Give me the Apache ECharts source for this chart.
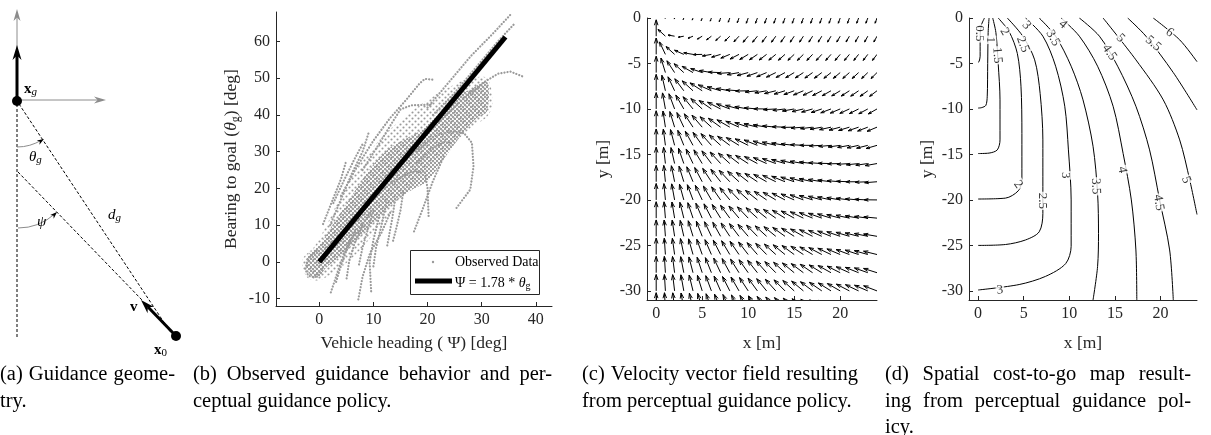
<!DOCTYPE html>
<html>
<head>
<meta charset="utf-8">
<script src="https://cdn.jsdelivr.net/npm/echarts@6.0.0/dist/echarts.min.js"></script>
<style>
  html, body { margin: 0; padding: 0; background: #fff; }
  #chart { width: 1211px; height: 435px; }
</style>
</head>
<body>
<div id="chart"></div>
<script>
// ---- panel (b): observed guidance behaviour ----
const headingTicks = [0, 10, 20, 30, 40];
const bearingTicks = [-10, 0, 10, 20, 30, 40, 50, 60];
const fitLine = [[0, 0], [34.4, 61.2]];
// outline of the loose cloud of observed points
const cloudLower = [[-3, -2], [-2, -4.5], [0, -5], [2, -3.5], [4, -1.5], [6, 1], [8, 4], [10, 7.5], [12, 11],
  [14, 15], [16, 19], [19, 24], [22, 28.5], [25, 32.5], [28, 36.5], [31, 39.5], [32, 43]];
const cloudUpper = [[31, 50], [27, 49.5], [24, 47.5], [21, 45], [18, 42], [15, 38.5], [13, 36], [11, 33],
  [9, 29.5], [7, 25.5], [5, 21], [3, 15], [1, 9], [-1, 4], [-3, 1]];
// outline of the dense core
const bandLower = [[-2.5, -1], [-1.5, -3.8], [0, -4.2], [1, -2], [3, 0.5], [5, 3], [7, 6], [9, 9], [11, 12],
  [13, 15], [15, 17.5], [17, 19.5], [20, 22], [23, 28], [26, 34], [29, 39], [31, 41]];
const bandUpper = [[31, 49], [28, 47], [25, 45], [22, 40.5], [19, 36], [16, 33.5], [13, 31], [10, 26.5],
  [8, 22.5], [6, 18], [4, 13.5], [2, 9], [0, 4.5], [-2, 2]];
// single trajectories that stand out of the cloud
const observedTraces = [
  [[4, 18], [7, 26], [10, 33], [13, 39], [16, 44], [18.5, 48.5], [19.5, 49.8], [21, 49.6]],
  [[8, 25], [11, 32], [13.5, 38], [15, 41.5], [17, 42.6], [20.8, 42.8]],
  [[2, 10], [4, 17], [6, 24], [8, 30], [9.2, 35.5]],
  [[0.7, 10.3], [2.5, 17], [4, 22.5], [5, 27.6]],
  [[2.6, 16], [4.5, 22], [6.5, 28], [8.2, 32.6]],
  [[18, 30], [21, 34], [23.9, 35.5], [26.7, 35.1], [28.2, 32.4], [28.5, 26], [27.9, 19.7], [25.1, 14.2]],
  [[22, 38], [26, 43.5], [30, 48.5], [33, 51.2], [35.3, 51.8], [37.5, 50.5]],
  [[20, 42], [24, 49], [28, 56], [32, 62], [35.6, 67.7]],
  [[21, 40], [25, 46], [29, 53], [33, 60], [36.2, 65]],
  [[12, 20], [15, 23], [17, 24.5], [19.5, 24.6], [20, 20], [20.2, 12.4]],
  [[23, 28.7], [21, 22], [19, 14], [17.4, 7.9]],
  [[9.4, 13.4], [7.5, 9], [5.7, 6.1], [4, 0], [2, -8.9]],
  [[13.1, 13.4], [11.5, 8], [9.4, 2.5], [8, -4], [7.2, -10.3]],
  [[12.5, 17], [11.5, 10], [10.5, 4], [10, -1.2]],
  [[-0.5, 3], [-2, 1], [-2.6, -2], [-2, -3.8], [-0.8, -4.2], [0.5, -2]],
  [[10, 14], [9, 9], [8, 4], [7.3, -1]],
  [[14, 17], [13.5, 12], [13, 8], [12.5, 4]],
  [[8, 10], [6.5, 5], [5.5, 0], [5, -5]],
  [[6.5, 8], [5, 3], [3.8, -2], [3, -6]],
  [[11, 12], [10, 6], [9.3, 0], [9.6, -8.5]],
  [[15.5, 19], [15, 14], [14.2, 9], [13.5, 5]],
  [[18, 27], [21, 31], [23, 32.5], [24.5, 32.4]]
];

// ---- panel (c): velocity field of the policy psi = GAIN * theta_g ----
const GAIN = 1.78;
const quiverX = [0, 1, 2, 3, 4, 5, 6, 7, 8, 9, 10, 11, 12, 13, 14, 15, 16, 17, 18, 19, 20, 21, 22, 23, 24];
const quiverY = [0, -2, -4, -6, -8, -10, -12, -14, -16, -18, -20, -22, -24, -26, -28, -30, -32];
const ARROW_SCALE = 1.8;
const SLOW_RADIUS = 10;

// ---- panel (d): cost-to-go contours ----
const mapXTicks = [0, 5, 10, 15, 20];
const mapYTicks = [-30, -25, -20, -15, -10, -5, 0];
const contourLevels = ['0.5', '1', '1.5', '2', '2.5', '3', '3.5', '4', '4.5', '5', '5.5', '6'];
const contours = [
  [[0.7, 0], [0.35, -0.8], [0.22, -2], [0.22, -4.2], [0.1, -4.8], [0, -4.85]],
  [[1.2, 0], [1.1, -1.6], [1.05, -5], [1.0, -8.6], [0.85, -9.6], [0.4, -9.85], [0, -9.9]],
  [[1.6, 0], [1.95, -1.6], [2.2, -5], [2.4, -9], [2.4, -13.4], [2.1, -14.5], [1.2, -14.85], [0, -14.9]],
  [[2.2, 0], [3.4, -1.5], [4.3, -3.9], [4.7, -7.5], [4.8, -12.7], [4.8, -17.8], [4.4, -19], [3.0, -19.8], [0, -19.9]],
  [[3.2, 0], [4.9, -2], [6.2, -4.6], [6.8, -8.3], [7.1, -13.4], [7.1, -21.5], [6.7, -23.5], [5.2, -24.4], [3.0, -24.9], [0, -25]],
  [[5.2, 0], [7.1, -2], [8.5, -5.3], [9.5, -9.7], [9.9, -14.5], [10.2, -20], [10.2, -25.1], [9.6, -27], [7.4, -28.4], [4.5, -29.3], [0, -29.9]],
  [[6.7, 0], [8.5, -2], [10.2, -5.3], [11.5, -9], [12.6, -14.1], [13.1, -19.3], [13.2, -23.7], [13.1, -27.3], [12.6, -31]],
  [[9.1, 0], [11.1, -2], [13.1, -5.3], [14.8, -9.7], [15.9, -14.9], [16.8, -20], [17.3, -25.5], [17.4, -31]],
  [[11.1, 0], [13.3, -2], [15.3, -5.3], [17.3, -9.7], [18.8, -14.5], [19.9, -20], [21, -25.5], [21.4, -31]],
  [[13.7, 0], [17.3, -4.6], [20.3, -9], [22.1, -13.4], [23.2, -17.8], [24, -21.6]],
  [[16.4, 0], [18.4, -2], [21.4, -6], [24, -10.1]],
  [[19.2, 0], [22.1, -2.4], [24, -4.8]]
];
const contourLabelText = ['0.5', '1', '1.5', '2', '2', '2.5', '2.5', '3', '3', '3', '3.5', '3.5', '4', '4', '4.5', '4.5', '5', '5', '5.5', '6'];
const contourLabelX = [0.1, 1.3, 2.1, 2.9, 4.4, 4.9, 7.0, 5.3, 9.6, 2.4, 8.2, 12.9, 9.3, 15.8, 14.4, 19.8, 15.6, 22.8, 19.2, 21.0];
const contourLabelY = [-1.7, -2.4, -4.1, -1.5, -18.3, -2.9, -20.1, -0.8, -17.3, -29.9, -2.2, -18.5, -0.7, -16.7, -3.8, -20.3, -2.2, -17.8, -2.8, -1.6];
const contourLabelAngle = [-90, -90, -85, -60, -55, -70, -90, -50, -90, 5, -60, -88, -40, -80, -55, -80, -45, -70, -40, -35];

// ---- captions ----
const captionLines = [
  ['(a) Guidance geome-', 'try.'],
  ['(b) Observed guidance behavior and per-', 'ceptual guidance policy.'],
  ['(c) Velocity vector field resulting', 'from perceptual guidance policy.'],
  ['(d) Spatial cost-to-go map result-', 'ing from perceptual guidance pol-', 'icy.']
];

const FONT = 'Liberation Serif';
const INK = '#262626';

const myChart = echarts.init(document.getElementById('chart'), null, { renderer: 'canvas' });

function axisBase(ticks, extra) {
  return Object.assign({
    type: 'value',
    axisLine: { show: true, onZero: false, lineStyle: { color: INK, width: 1 } },
    axisTick: { show: true, inside: true, length: 4, customValues: ticks, lineStyle: { color: INK } },
    axisLabel: { show: true, customValues: ticks, color: INK, fontFamily: FONT, fontSize: 16, margin: 6 },
    splitLine: { show: false },
    nameLocation: 'middle',
    nameTextStyle: { color: INK, fontFamily: FONT, fontSize: 17.5 }
  }, extra);
}

// small helpers for the hand drawn geometry panel
function head(tip, dir, len, hw, color) {
  let n = Math.hypot(dir[0], dir[1]);
  let ux = dir[0] / n, uy = dir[1] / n;
  let bx = tip[0] - ux * len, by = tip[1] - uy * len;
  let mx = tip[0] - ux * len * 0.7, my = tip[1] - uy * len * 0.7;
  return {
    type: 'polygon',
    shape: { points: [tip, [bx - uy * hw, by + ux * hw], [mx, my], [bx + uy * hw, by - ux * hw]] },
    style: { fill: color }
  };
}
function seg(a, b, color, w, dash) {
  return {
    type: 'line', shape: { x1: a[0], y1: a[1], x2: b[0], y2: b[1] },
    style: { stroke: color, lineWidth: w, lineDash: dash || null }
  };
}
function label(x, y, text, rich) {
  return { type: 'text', x: x, y: y, style: { text: text, rich: rich, fontFamily: FONT, fill: '#000' } };
}

const mathRich = {
  b: { fontFamily: FONT, fontSize: 15, fontWeight: 'bold', lineHeight: 18 },
  i: { fontFamily: FONT, fontSize: 15, fontStyle: 'italic', lineHeight: 18 },
  s: { fontFamily: FONT, fontSize: 11, fontStyle: 'italic', lineHeight: 11, verticalAlign: 'bottom' },
  n: { fontFamily: FONT, fontSize: 11, lineHeight: 11, verticalAlign: 'bottom' }
};

const xg = [17, 101], x0 = [176, 336];
const geometry = [
  seg([17, 100], [17, 16], '#8c8c8c', 1), head([17, 9], [0, -1], 12, 3.5, '#8c8c8c'),
  seg([17, 100], [99, 100], '#8c8c8c', 1), head([106, 100], [1, 0], 12, 3.5, '#8c8c8c'),
  seg([17, 100], [17, 55], '#000', 3), head([17, 45], [0, -1], 15, 4.5, '#000'),
  seg([17, 104], [17, 338], '#000', 1, [3, 2]),
  seg([19, 104], [171, 333], '#000', 1, [3, 2]),
  seg([18, 172], [142, 300], '#000', 1, [3, 2]),
  { type: 'arc', shape: { cx: 17, cy: 100, r: 47, startAngle: 1.02, endAngle: Math.PI / 2 }, style: { stroke: '#8c8c8c', fill: null, lineWidth: 1 } },
  head([44, 139], [0.85, -0.53], 7, 2.5, '#000'),
  { type: 'arc', shape: { cx: 18, cy: 173, r: 55, startAngle: 0.84, endAngle: Math.PI / 2 }, style: { stroke: '#8c8c8c', fill: null, lineWidth: 1 } },
  head([57, 212], [0.72, -0.69], 7, 2.5, '#000'),
  seg(x0, [148, 307], '#000', 3), head([141, 300], [-0.7, -0.72], 14, 4.5, '#000'),
  { type: 'circle', shape: { cx: xg[0], cy: xg[1], r: 5 }, style: { fill: '#000' } },
  { type: 'circle', shape: { cx: x0[0], cy: x0[1], r: 5 }, style: { fill: '#000' } },
  label(24, 80, '{b|x}{s|g}', mathRich),
  label(29, 148, '{i|θ}{s|g}', mathRich),
  label(37, 213, '{i|ψ}', mathRich),
  label(108, 206, '{i|d}{s|g}', mathRich),
  label(130, 298, '{b|v}', mathRich),
  label(154, 341, '{b|x}{n|0}', mathRich)
];

// legend of panel (b)
const legendRich = {
  t: { fontFamily: FONT, fontSize: 14, color: '#000', lineHeight: 16 },
  i: { fontFamily: FONT, fontSize: 14, fontStyle: 'italic', color: '#000', lineHeight: 16 },
  s: { fontFamily: FONT, fontSize: 10, color: '#000', lineHeight: 10, verticalAlign: 'bottom' }
};
const legendBox = [
  { type: 'rect', shape: { x: 410.5, y: 250.5, width: 129, height: 44 }, style: { fill: '#fff', stroke: INK, lineWidth: 1 }, z: 100 },
  { type: 'circle', shape: { cx: 433, cy: 262, r: 1.2 }, style: { fill: '#9a9a9a' }, z: 101 },
  { type: 'text', x: 455, y: 262, style: { text: '{t|Observed Data}', rich: legendRich, verticalAlign: 'middle' }, z: 101 },
  { type: 'line', shape: { x1: 415, y1: 281, x2: 452, y2: 281 }, style: { stroke: '#000', lineWidth: 5 }, z: 101 },
  { type: 'text', x: 455, y: 283, style: { text: '{t|Ψ = 1.78 * }{i|θ}{s|g}', rich: legendRich, verticalAlign: 'middle' }, z: 101 }
];

// justified captions, word by word
const CAPTION_SIZE = 20.5;
const captionBoxes = [[0, 175], [193, 359], [582, 276], [885, 306]];
const measureCtx = document.createElement('canvas').getContext('2d');
measureCtx.font = CAPTION_SIZE + 'px "' + FONT + '"';
function captionText(x, y, t) {
  return { type: 'text', x: x, y: y, style: { text: t, fontFamily: FONT, fontSize: CAPTION_SIZE, fill: '#000', verticalAlign: 'middle' } };
}
const captions = [];
captionLines.forEach(function (lines, k) {
  let left = captionBoxes[k][0], width = captionBoxes[k][1];
  lines.forEach(function (line, li) {
    let y = 375 + li * 26.5;
    let words = line.split(' ');
    if (li === lines.length - 1 || words.length < 2) {
      captions.push(captionText(left, y, line));
      return;
    }
    let widths = words.map(function (w) { return measureCtx.measureText(w).width; });
    let total = widths.reduce(function (a, b) { return a + b; }, 0);
    let gap = (width - total) / (words.length - 1);
    let cx = left;
    words.forEach(function (w, i) {
      captions.push(captionText(cx, y, w));
      cx += widths[i] + gap;
    });
  });
});

// dot textures for the observed cloud
function dotPattern(size, dots, r) {
  const c = document.createElement('canvas');
  c.width = size; c.height = size;
  const g = c.getContext('2d');
  g.fillStyle = '#9a9a9a';
  dots.forEach(function (p) { g.beginPath(); g.arc(p[0], p[1], r, 0, Math.PI * 2); g.fill(); });
  return { image: c, repeat: 'repeat' };
}
const sparseDots = dotPattern(6, [[1.5, 1.5], [4.5, 4.5]], 1.05);
const denseDots = dotPattern(4, [[1, 1], [3, 3]], 1.15);

const quiverData = [];
quiverY.forEach(function (y) {
  quiverX.forEach(function (x) { quiverData.push([x, y]); });
});

function renderArrow(params, api) {
  let x = api.value(0), y = api.value(1);
  let d = Math.hypot(x, y);
  if (d === 0) return;
  let th = Math.atan2(x, Math.abs(y));
  let psi = GAIN * th;
  let speed = Math.cos(psi - th) * (1 - (1 - Math.min(1, d / SLOW_RADIUS)) * Math.sin(th));
  let u = -speed * Math.sin(psi) * ARROW_SCALE;
  let v = speed * Math.cos(psi) * ARROW_SCALE;
  let p0 = api.coord([x, y]);
  let p1 = api.coord([x + u, y + v]);
  let dx = p1[0] - p0[0], dy = p1[1] - p0[1];
  let hl = 0.33, hw = 0.33;
  let a = [p1[0] - hl * (dx + hw * dy), p1[1] - hl * (dy - hw * dx)];
  let b = [p1[0] - hl * (dx - hw * dy), p1[1] - hl * (dy + hw * dx)];
  return {
    type: 'group',
    children: [
      { type: 'polyline', shape: { points: [p0, p1] }, style: { stroke: '#000', lineWidth: 1, fill: null } },
      { type: 'polyline', shape: { points: [a, p1, b] }, style: { stroke: '#000', lineWidth: 1, fill: null } }
    ]
  };
}

function cloudSeries(lower, upper, fill, z) {
  return {
    type: 'custom', xAxisIndex: 0, yAxisIndex: 0, silent: true, clip: true, z: z,
    data: [[0, 0]],
    renderItem: function (params, api) {
      let pts = lower.concat(upper).map(function (p) { return api.coord(p); });
      return { type: 'polygon', shape: { points: pts, smooth: 0.3 }, style: { fill: fill } };
    }
  };
}

const traceSeries = observedTraces.map(function (t) {
  return {
    type: 'line', xAxisIndex: 0, yAxisIndex: 0, data: t, symbol: 'none', silent: true,
    lineStyle: { color: '#9a9a9a', width: 2.2, type: [0.1, 3], cap: 'round' }, z: 3
  };
});

const contourSeries = contours.map(function (c, i) {
  return {
    type: 'line', name: contourLevels[i], xAxisIndex: 2, yAxisIndex: 2, data: c, symbol: 'none',
    smooth: 0.3, silent: true, lineStyle: { color: '#000', width: 1 }, z: 3
  };
});

const labelData = contourLabelText.map(function (t, i) {
  return { value: [contourLabelX[i], contourLabelY[i]], label: { formatter: t, rotate: contourLabelAngle[i] } };
});

const option = {
  animation: false,
  backgroundColor: '#fff',
  textStyle: { fontFamily: FONT },
  grid: [
    { left: 276, top: 12, width: 276, height: 294 },
    { left: 647, top: 18, width: 230, height: 282 },
    { left: 969, top: 18, width: 228, height: 282 }
  ],
  xAxis: [
    axisBase(headingTicks, { gridIndex: 0, min: -8, max: 43, name: 'Vehicle heading ( Ψ) [deg]', nameGap: 28 }),
    axisBase(mapXTicks, { gridIndex: 1, min: -1, max: 24, name: 'x [m]', nameGap: 34 }),
    axisBase(mapXTicks, { gridIndex: 2, min: -1, max: 24, name: 'x [m]', nameGap: 34 })
  ],
  yAxis: [
    axisBase(bearingTicks, {
      gridIndex: 0, min: -12, max: 68, nameGap: 34, nameRotate: 90,
      name: 'Bearing to goal ({i|θ}{s|g}) [deg]',
      nameTextStyle: {
        color: INK, fontFamily: FONT, fontSize: 17.5,
        rich: {
          i: { fontFamily: FONT, fontSize: 17.5, fontStyle: 'italic', color: INK, lineHeight: 22 },
          s: { fontFamily: FONT, fontSize: 12, color: INK, lineHeight: 12, verticalAlign: 'bottom' }
        }
      }
    }),
    axisBase(mapYTicks, { gridIndex: 1, min: -31, max: 0, name: 'y [m]', nameGap: 35, nameRotate: 90 }),
    axisBase(mapYTicks, { gridIndex: 2, min: -31, max: 0, name: 'y [m]', nameGap: 33, nameRotate: 90 })
  ],
  graphic: { elements: geometry.concat(legendBox, captions) },
  series: [
    cloudSeries(cloudLower, cloudUpper, sparseDots, 1),
    cloudSeries(bandLower, bandUpper, denseDots, 2)
  ].concat(traceSeries, [
    {
      type: 'line', name: 'fit', xAxisIndex: 0, yAxisIndex: 0, data: fitLine, symbol: 'none', silent: true,
      lineStyle: { color: '#000', width: 5 }, z: 5
    },
    {
      type: 'custom', xAxisIndex: 1, yAxisIndex: 1, data: quiverData, clip: true, silent: true,
      renderItem: renderArrow, z: 3
    }
  ], contourSeries, [
    {
      type: 'scatter', xAxisIndex: 2, yAxisIndex: 2, data: labelData, symbolSize: 1, silent: true, z: 6,
      itemStyle: { color: 'rgba(0,0,0,0)' },
      label: {
        show: true, position: 'inside', color: '#000', fontFamily: FONT, fontSize: 13,
        backgroundColor: '#fff', padding: [0, 1]
      }
    }
  ])
};

myChart.setOption(option);
</script>
</body>
</html>
